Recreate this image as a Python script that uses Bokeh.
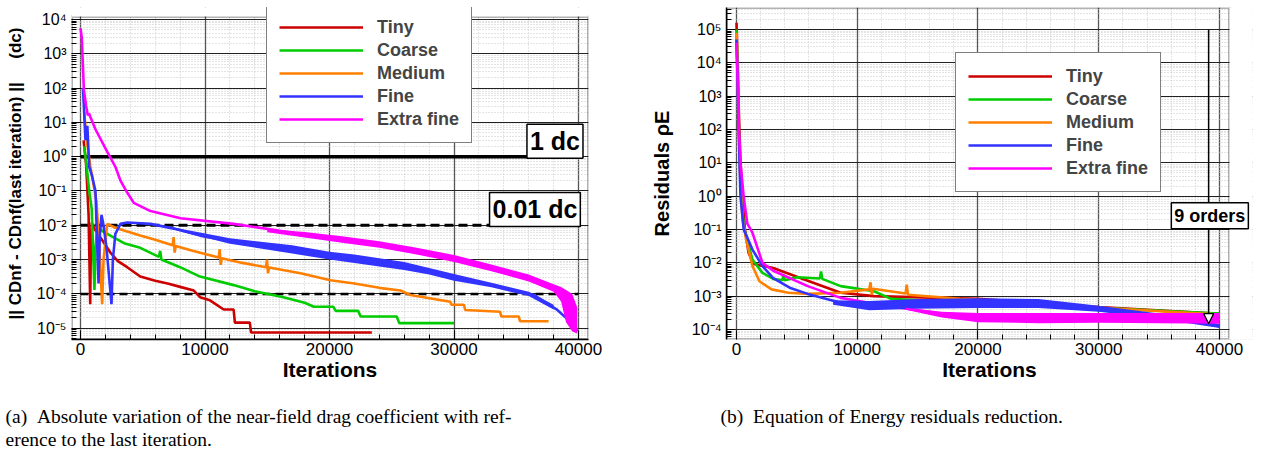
from bokeh.plotting import figure
from bokeh.models import (Range1d, FixedTicker, Legend, LegendItem, Label, Arrow, NormalHead, BoxAnnotation)
from bokeh.layouts import column, row
from bokeh.embed import file_html
from bokeh.resources import INLINE

# ---------------- data ----------------
SERIES = ["Tiny", "Coarse", "Medium", "Fine", "Extra fine"]
COLORS = ["#cc0000", "#00cc00", "#ff8000", "#3333ff", "#ff00ff"]

X_TICKS = [0, 10000, 20000, 30000, 40000]
X_TICK_LABELS = ["0", "10000", "20000", "30000", "40000"]

L_Y_TICKS = [1e-5, 1e-4, 1e-3, 1e-2, 1e-1, 1e0, 1e1, 1e2, 1e3, 1e4]
L_Y_TICK_LABELS = ["10⁻⁵", "10⁻⁴", "10⁻³", "10⁻²", "10⁻¹", "10⁰", "10¹", "10²", "10³", "10⁴"]
R_Y_TICKS = [1e-4, 1e-3, 1e-2, 1e-1, 1e0, 1e1, 1e2, 1e3, 1e4, 1e5]
R_Y_TICK_LABELS = ["10⁻⁴", "10⁻³", "10⁻²", "10⁻¹", "10⁰", "10¹", "10²", "10³", "10⁴", "10⁵"]

# left: |CDnf - CDnf(last)| in drag counts
L_TINY_IT = [250, 450, 650, 780, 820, 900, 1100, 1600, 2400, 3000, 3750, 4800, 6000, 7000, 8000, 9100, 9600, 10400, 11500, 12300, 12400, 13600, 13700, 23400]
L_TINY_VAL = [3.0, 0.6, 2e-2, 5e-5, 1e-3, 1.2e-2, 8e-3, 4.4e-3, 1.6e-3, 9e-4, 6e-4, 3.2e-4, 2.4e-4, 2.0e-4, 1.6e-4, 1.25e-4, 8e-5, 6.5e-5, 3.5e-5, 3.5e-5, 1.45e-5, 1.45e-5, 7.5e-6, 7.5e-6]

L_COARSE_IT = [300, 500, 700, 900, 1120, 1200, 1350, 1700, 2400, 3500, 4800, 6300, 6400, 6500, 8000, 9600, 12300, 14000, 16300, 18000, 18750, 20300, 20500, 22300, 22500, 25400, 25600, 30000]
L_COARSE_VAL = [2.0, 0.5, 0.1, 3e-2, 1.3e-4, 2e-3, 1e-2, 7e-3, 5e-3, 3e-3, 2.2e-3, 1.2e-3, 1.8e-3, 1.0e-3, 6e-4, 3.2e-4, 1.8e-4, 1.2e-4, 8e-5, 5.5e-5, 4.2e-5, 4.2e-5, 3.2e-5, 3.2e-5, 2.2e-5, 2.2e-5, 1.4e-5, 1.4e-5]

L_MEDIUM_IT = [300, 500, 800, 1280, 1500, 1740, 1850, 2140, 2800, 3500, 4800, 6000, 7400, 7480, 7560, 7650, 9000, 11100, 11180, 11260, 11350, 13000, 14900, 14980, 15060, 15150, 17670, 20080, 22000, 24000, 25700, 26500, 28500, 29700, 29800, 30800, 30900, 33700, 33800, 35200, 35300, 37600]
L_MEDIUM_VAL = [20, 3, 0.5, 5e-2, 3e-3, 5e-5, 1e-3, 1.1e-2, 8.5e-3, 7e-3, 5e-3, 3.8e-3, 2.6e-3, 4.5e-3, 1.6e-3, 2.5e-3, 1.8e-3, 1.15e-3, 2e-3, 7e-4, 1.1e-3, 8e-4, 6e-4, 1e-3, 4e-4, 5.9e-4, 4e-4, 2.5e-4, 2e-4, 1.5e-4, 1.25e-4, 9.3e-5, 7e-5, 5.9e-5, 4.8e-5, 4.8e-5, 3.4e-5, 3.0e-5, 2.2e-5, 2.2e-5, 1.6e-5, 1.6e-5]

L_FINE_IT = [200, 400, 550, 700, 900, 1200, 1450, 1550, 1690, 1850, 2100, 2490, 2600, 2800, 3210, 3750, 5620, 7500, 9600, 12000, 15000, 17670, 20080, 25700, 30040, 33700, 36400, 38300, 39000, 39400]
L_FINE_VAL = [100, 3, 8, 0.5, 0.3, 0.1, 2e-4, 5e-3, 2e-2, 1e-2, 2e-3, 5e-5, 1e-3, 5.6e-3, 1.1e-2, 1.2e-2, 1.1e-2, 8e-3, 5e-3, 3.5e-3, 2.5e-3, 1.8e-3, 1.3e-3, 6.8e-4, 2.9e-4, 1.6e-4, 9.3e-5, 3.4e-5, 2e-5, 1.5e-5]
L_FINE_BAND_IT = [7500, 12000, 17000, 20000, 22000, 24000, 26000, 28000, 30000, 33000, 36000, 38000]
L_FINE_BAND_LO = [7.4e-3, 2.9e-3, 1.5e-3, 1.0e-3, 8e-4, 6.3e-4, 5e-4, 3.7e-4, 2.4e-4, 1.55e-4, 8.7e-5, 3.5e-5]
L_FINE_BAND_HI = [8.6e-3, 4.2e-3, 2.6e-3, 1.7e-3, 1.4e-3, 1.1e-3, 8.5e-4, 5.7e-4, 3.8e-4, 2.1e-4, 1.15e-4, 4.8e-5]

L_XFINE_IT = [0, 100, 270, 450, 590, 700, 800, 1200, 2140, 2810, 3210, 3750, 4280, 5620, 8030, 12300, 17670, 20080, 25700, 30040, 33700, 36400, 38550, 39000, 39500, 39900]
L_XFINE_VAL = [5600, 3000, 90, 30, 16, 18, 14, 6.3, 1.4, 0.5, 0.2, 0.09, 0.045, 0.026, 0.016, 0.011, 5.6e-3, 4e-3, 2.2e-3, 1.07e-3, 4.9e-4, 2.5e-4, 1.3e-4, 6e-5, 2e-5, 8e-6]
L_XFINE_BAND_IT = [15000, 18000, 21000, 24000, 27000, 30000, 33000, 36000, 38000, 38600, 39000, 39500, 39900]
L_XFINE_BAND_LO = [6.3e-3, 4.4e-3, 3.1e-3, 2.2e-3, 1.4e-3, 8.5e-4, 4.6e-4, 2.3e-4, 1.15e-4, 6e-5, 1.5e-5, 8e-6, 7e-6]
L_XFINE_BAND_HI = [7.8e-3, 6.4e-3, 4.8e-3, 3.4e-3, 2.2e-3, 1.35e-3, 7.2e-4, 3.7e-4, 1.9e-4, 1.6e-4, 1.3e-4, 1e-4, 4e-5]

L_THRESHOLDS = [1.0, 1e-2, 1e-4]
L_THRESHOLD_DASH = ["solid", "9 5", "8 5"]
L_THRESHOLD_WIDTH = [3.5, 3.0, 2.5]

# right: residuals rho E
R_TINY_IT = [0, 100, 200, 330, 500, 700, 1000, 1410, 3040, 5900, 8630, 11390, 16900, 20000, 30000, 40000]
R_TINY_VAL = [1.6e5, 1e4, 300, 10, 1, 0.1, 2e-2, 9.3e-3, 7e-3, 2.9e-3, 1.26e-3, 1.0e-3, 8.9e-4, 8.3e-4, 4.7e-4, 2.95e-4]

R_COARSE_IT = [0, 100, 200, 330, 500, 660, 1320, 2150, 3040, 3800, 3900, 4000, 5000, 6900, 7000, 7100, 8630, 11390, 12800, 20000, 30000, 40000]
R_COARSE_VAL = [1e5, 5e3, 100, 3, 0.3, 0.1, 1.26e-2, 5e-3, 3.3e-3, 3e-3, 4.5e-3, 3e-3, 3.7e-3, 3.4e-3, 5.5e-3, 3.3e-3, 2e-3, 1.4e-3, 8.3e-4, 6e-4, 4.5e-4, 3e-4]

R_MEDIUM_IT = [0, 100, 200, 330, 500, 800, 1320, 1900, 2900, 4300, 5900, 8630, 11000, 11100, 11200, 11300, 14000, 14100, 14200, 18500, 25000, 30000, 40000]
R_MEDIUM_VAL = [8e4, 4e3, 80, 2, 0.2, 5e-2, 8e-3, 2.8e-3, 1.6e-3, 1.26e-3, 1.17e-3, 1.26e-3, 1.6e-3, 2.6e-3, 1.1e-3, 1.66e-3, 1.2e-3, 2.2e-3, 1.1e-3, 8.3e-4, 6e-4, 4.5e-4, 2.8e-4]

R_FINE_IT = [0, 100, 200, 330, 600, 1320, 2150, 3040, 4400, 5900, 8630, 11390, 18500, 25000, 30000, 35000, 40000]
R_FINE_VAL = [5e4, 2e3, 50, 1, 0.1, 2.5e-2, 8e-3, 3.5e-3, 1.8e-3, 1.17e-3, 6.3e-4, 5.1e-4, 6.3e-4, 6e-4, 4.2e-4, 2.5e-4, 1.26e-4]
R_FINE_BAND_IT = [8000, 11000, 15000, 20000, 25000, 30000, 35000, 40000]
R_FINE_BAND_LO = [5.5e-4, 3.8e-4, 4.2e-4, 4.4e-4, 4.4e-4, 3.4e-4, 2.1e-4, 1.1e-4]
R_FINE_BAND_HI = [7.5e-4, 7.2e-4, 8.2e-4, 8.6e-4, 8.2e-4, 5.2e-4, 3.0e-4, 1.45e-4]

R_XFINE_IT = [0, 100, 200, 330, 590, 900, 1320, 2150, 3040, 5900, 8630, 11390, 14100, 18300, 20000, 30000, 40000]
R_XFINE_VAL = [4e4, 3e3, 100, 10, 1, 0.15, 8e-2, 1e-2, 5.8e-3, 2e-3, 8.9e-4, 5.9e-4, 4.2e-4, 2.6e-4, 2.3e-4, 2.2e-4, 2.2e-4]
R_XFINE_BAND_IT = [14000, 17000, 20000, 25000, 30000, 35000, 40000]
R_XFINE_BAND_LO = [3.9e-4, 2.3e-4, 1.65e-4, 1.55e-4, 1.6e-4, 1.55e-4, 1.5e-4]
R_XFINE_BAND_HI = [4.5e-4, 3.4e-4, 3.1e-4, 3.1e-4, 3.1e-4, 3.1e-4, 3.1e-4]

R_ARROW_IT = 39100
R_ARROW_FROM = 1e5
R_ARROW_TO = 1.5e-4

CAPTION_A = ["(a)\u00a0\u00a0Absolute variation of the near-field drag coefficient with ref-",
             "erence to the last iteration."]
CAPTION_B = "(b)\u00a0\u00a0Equation of Energy residuals reduction."

FONT = "Liberation Sans"

X_MINOR = [v for v in range(2000, 42000, 2000) if v % 10000 != 0]


def log_minor(lo, hi):
    return [m * 10.0 ** k for k in range(lo, hi) for m in range(2, 10)]


def make_fig(width, height, xr, yr, borders, y_ticks, y_minor, y_labels, y_label, y_label_size, y_label_standoff):
    p = figure(width=width, height=height, x_range=Range1d(*xr), y_range=Range1d(*yr),
               y_axis_type="log", output_backend="svg", toolbar_location=None,
               min_border_left=borders[0], min_border_right=borders[1],
               min_border_top=borders[2], min_border_bottom=borders[3])
    p.background_fill_color = "white"
    p.border_fill_color = "white"
    p.outline_line_color = None
    p.xaxis.ticker = FixedTicker(ticks=X_TICKS, minor_ticks=X_MINOR)
    p.xaxis.major_label_overrides = {t: l for t, l in zip(X_TICKS, X_TICK_LABELS)}
    p.yaxis.ticker = FixedTicker(ticks=y_ticks, minor_ticks=y_minor)
    p.yaxis.major_label_overrides = {t: l for t, l in zip(y_ticks, y_labels)}
    for ax in (p.xaxis[0], p.yaxis[0]):
        ax.axis_line_color = "black"
        ax.axis_line_width = 1.5
        ax.major_tick_in = 9
        ax.major_tick_out = 0
        ax.minor_tick_in = 5
        ax.minor_tick_out = 0
        ax.major_tick_line_color = "black"
        ax.minor_tick_line_color = "black"
        ax.major_label_text_font = FONT
        ax.major_label_text_color = "black"
        ax.axis_label_text_font = FONT
        ax.axis_label_text_font_style = "bold"
        ax.axis_label_text_color = "black"
    p.xaxis.major_label_text_font_size = "17px"
    p.xaxis.major_label_standoff = 3
    p.xaxis.axis_label = "Iterations"
    p.xaxis.axis_label_text_font_size = "21px"
    p.xaxis.axis_label_standoff = 0
    p.yaxis.major_label_text_font_size = "16px"
    p.yaxis.major_label_standoff = 5
    p.yaxis.axis_label = y_label
    p.yaxis.axis_label_text_font_size = y_label_size
    p.yaxis.axis_label_standoff = y_label_standoff
    p.xgrid.grid_line_color = "#555555"
    p.xgrid.grid_line_width = 1.3
    p.ygrid.grid_line_color = "#222222"
    p.ygrid.grid_line_width = 1.1
    for g in (p.xgrid[0], p.ygrid[0]):
        g.minor_grid_line_color = "#c8c8c8"
        g.minor_grid_line_dash = "1 2"
        g.minor_grid_line_width = 1
    return p


def add_series(p, its, vals, bands):
    rends = []
    for it, v, c in zip(its, vals, COLORS):
        rends.append(p.line(it, v, line_color=c, line_width=2.6))
    for (bx, blo, bhi, c) in bands:
        p.varea(x=bx, y1=blo, y2=bhi, fill_color=c, fill_alpha=1.0)
    return rends


def add_legend(p, rends, loc):
    leg = Legend(items=[LegendItem(label=s, renderers=[r]) for s, r in zip(SERIES, rends)],
                 location=loc, margin=0, padding=12, spacing=1,
                 glyph_width=84, glyph_height=22, label_height=22, label_standoff=14,
                 label_text_font=FONT, label_text_font_style="bold", label_text_font_size="18px",
                 border_line_color="black", border_line_width=1.5,
                 background_fill_color="white", background_fill_alpha=1.0)
    p.add_layout(leg)
    return leg


# ---------------- left figure ----------------
# plot frame extends 9 px above the visible box so that the legend can overlap the box's top edge
L_Y_TOP = 10 ** 4.09
p1 = make_fig(630, 400, (-723, 40803), (10 ** -5.33, 10 ** 4.349), (71, 42, 4, 60),
              L_Y_TICKS, log_minor(-6, 4), L_Y_TICK_LABELS,
              "|| CDnf - CDnf(last iteration) ||\u00a0\u00a0\u00a0\u00a0\u00a0(dc)", "17px", 9)
p1.yaxis.axis_line_color = None

for thr, dash, w in zip(L_THRESHOLDS, L_THRESHOLD_DASH, L_THRESHOLD_WIDTH):
    p1.segment(x0=X_TICKS[0], y0=thr, x1=X_TICKS[-1], y1=thr, line_color="black", line_width=w, line_dash=dash)

l_rends = add_series(
    p1,
    [L_TINY_IT, L_COARSE_IT, L_MEDIUM_IT, L_FINE_IT, L_XFINE_IT],
    [L_TINY_VAL, L_COARSE_VAL, L_MEDIUM_VAL, L_FINE_VAL, L_XFINE_VAL],
    [(L_FINE_BAND_IT, L_FINE_BAND_LO, L_FINE_BAND_HI, COLORS[3]),
     (L_XFINE_BAND_IT, L_XFINE_BAND_LO, L_XFINE_BAND_HI, COLORS[4])])
p1.add_layout(BoxAnnotation(top=L_Y_TOP, fill_alpha=0, line_color="black", line_width=3))
p1.add_layout(BoxAnnotation(bottom=L_Y_TOP, fill_color="white", fill_alpha=1, line_alpha=0))
add_legend(p1, l_rends, (195, 196))

for txt, xx, yy in [("1 dc", 38110, 2.8), ("0.01 dc", 36500, 0.029)]:
    p1.add_layout(Label(x=xx, y=yy, text=txt, text_align="center", text_baseline="middle",
                        text_font=FONT, text_font_style="bold", text_font_size="25px",
                        text_color="black", background_fill_color="white",
                        border_line_color="black", border_line_width=1.5, padding=3))

# ---------------- right figure ----------------
# plot frame extends 23 px right of the visible box so that the "9 orders" box can overhang it
R_X_RIGHT = 40828
p2 = make_fig(633, 400, (-828, 42733), (10 ** -4.3, 10 ** 5.66), (96, 11, 7, 61),
              R_Y_TICKS, log_minor(-5, 6), R_Y_TICK_LABELS, "Residuals ρE", "20px", 16)
p2.xaxis.axis_line_color = None

r_rends = add_series(
    p2,
    [R_TINY_IT, R_COARSE_IT, R_MEDIUM_IT, R_FINE_IT, R_XFINE_IT],
    [R_TINY_VAL, R_COARSE_VAL, R_MEDIUM_VAL, R_FINE_VAL, R_XFINE_VAL],
    [(R_FINE_BAND_IT, R_FINE_BAND_LO, R_FINE_BAND_HI, COLORS[3]),
     (R_XFINE_BAND_IT, R_XFINE_BAND_LO, R_XFINE_BAND_HI, COLORS[4])])
p2.add_layout(BoxAnnotation(right=R_X_RIGHT, fill_alpha=0, line_color="black", line_width=3))
p2.add_layout(BoxAnnotation(left=R_X_RIGHT, fill_color="white", fill_alpha=1, line_alpha=0))
add_legend(p2, r_rends, (229, 147))

p2.add_layout(Arrow(x_start=R_ARROW_IT, y_start=R_ARROW_FROM, x_end=R_ARROW_IT, y_end=R_ARROW_TO,
                    line_color="black", line_width=1.5,
                    end=NormalHead(size=10, fill_color="white", line_color="black", line_width=1.2)))
p2.add_layout(Label(x=R_ARROW_IT + 100, y=0.26, text="9 orders", text_align="center", text_baseline="middle",
                    text_font=FONT, text_font_style="bold", text_font_size="18px",
                    text_color="black", background_fill_color="white",
                    border_line_color="black", border_line_width=1.5, padding=3))

# ---------------- captions ----------------
p3 = figure(width=1263, height=54, x_range=Range1d(0, 1263), y_range=Range1d(54, 0),
            x_axis_type=None, y_axis_type=None, output_backend="svg", toolbar_location=None,
            min_border=0, outline_line_color=None)
p3.grid.visible = False
cap_style = dict(text_font="Liberation Serif", text_font_size="19.5px", text_color="black",
                 text_baseline="alphabetic", text_align="left")
p3.add_layout(Label(x=5, y=16, text=CAPTION_A[0], **cap_style))
p3.add_layout(Label(x=5, y=39, text=CAPTION_A[1], **cap_style))
p3.add_layout(Label(x=720, y=16, text=CAPTION_B, **cap_style))

layout = column(row(p1, p2), p3)
open("out.html", "w").write(file_html(layout, INLINE))
